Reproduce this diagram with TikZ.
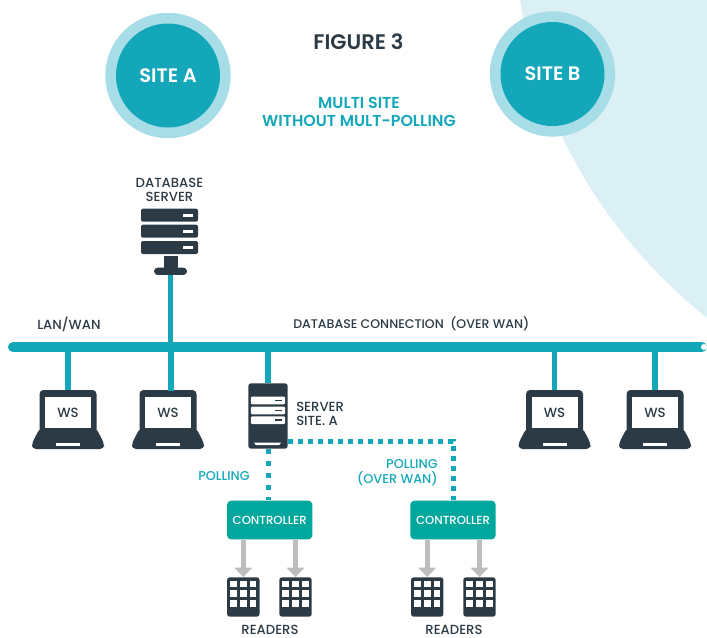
\documentclass[tikz,border=0pt]{standalone}
\usepackage{fontspec}
\setmainfont{Poppins Medium}
\newfontfamily\semifont{Poppins SemiBold}
\usetikzlibrary{arrows.meta,positioning}
\definecolor{sitecyan}{HTML}{14A7BA}
\definecolor{sitering}{HTML}{A6DDE7}
\definecolor{sitepale}{HTML}{DBF0F4}
\definecolor{icondark}{HTML}{2B3A44}
\definecolor{ctrlteal}{HTML}{00A79D}
\definecolor{arrowgray}{HTML}{BDBDBD}
\tikzstyle{sitering} = [circle, fill=sitering, minimum size=94pt, inner sep=0pt]
\tikzstyle{sitecore} = [circle, fill=sitecyan, minimum size=78pt, inner sep=0pt, text=white, font=\semifont\fontsize{14.6}{16}\selectfont]
\tikzstyle{darktext} = [text=icondark, font=\fontsize{9.9}{10.5}\selectfont, align=center, inner sep=0pt]
\tikzstyle{cyantext} = [text=sitecyan, font=\fontsize{9.6}{11.2}\selectfont, align=center, inner sep=0pt]
\tikzstyle{busbar} = [fill=sitecyan, minimum width=524.25pt, minimum height=7.3pt, rounded corners=3.6pt, inner sep=0pt]
\tikzstyle{busline} = [draw=sitecyan, line width=4.2pt]
\tikzstyle{polldots} = [draw=sitecyan, line width=3.75pt, dash pattern=on 3.75pt off 3.75pt]
\tikzstyle{pollsteps} = [draw=sitecyan, line width=3.75pt, dash pattern=on 3.75pt off 5.25pt]
\tikzstyle{darkrow} = [fill=icondark, minimum width=42.75pt, minimum height=9.75pt, rounded corners=1.5pt, inner sep=0pt]
\tikzstyle{whiteslot} = [fill=white, minimum width=7.5pt, minimum height=2.2pt, inner sep=0pt]
\tikzstyle{laptoplid} = [fill=icondark, minimum width=42.75pt, minimum height=33pt, rounded corners=3pt, inner sep=0pt]
\tikzstyle{wsscreen} = [fill=white, minimum width=34.5pt, minimum height=24pt, inner sep=0pt, text=icondark, font=\fontsize{10}{11}\selectfont]
\tikzstyle{towerbox} = [fill=icondark, minimum width=29.5pt, minimum height=49pt, rounded corners=2pt, inner sep=0pt]
\tikzstyle{towerslot} = [fill=white, minimum width=25.7pt, minimum height=5.7pt, rounded corners=0.8pt, inner sep=0pt]
\tikzstyle{controller} = [fill=ctrlteal, minimum width=64pt, minimum height=29pt, rounded corners=3pt, inner sep=0pt, text=white, font=\fontsize{8.8}{10}\selectfont]
\tikzstyle{readerbox} = [fill=icondark, minimum width=24.3pt, minimum height=29.5pt, rounded corners=2pt, inner sep=0pt]
\tikzstyle{readerkey} = [fill=white, minimum size=5pt, inner sep=0pt]
\tikzstyle{feedarrow} = [draw=arrowgray, line width=4pt, -{Triangle[width=13pt,length=7pt]}]
\newcommand{\wslaptop}[2]{%
	\node[laptoplid] (#1) at (#2,412) {};
	\node[wsscreen] (#1screen) at (#2,412.7) {WS};
	\fill[icondark, rounded corners=3pt] (#2-28,428) -- (#2+28,428) -- (#2+36,443) -- (#2+36,449) -- (#2-36,449) -- (#2-36,443) -- cycle;
	\fill[white] (#2-12,443) rectangle (#2+12,445.7);
}
\newcommand{\cardreader}[2]{%
	\node[readerbox] (#1) at (#2,597) {};
	\foreach \col in {-9.7,0,9.7}
		\foreach \row in {-13,-3.3,6.4}
			\node[readerkey] at (#2+\col,597+\row) {};
}
\begin{document}
\begin{tikzpicture}[x=0.75pt,y=-0.75pt]
	\clip (0,0) rectangle (707,637);
	\fill[sitepale] (520,0) .. controls (540,130) and (610,240) .. (707,318) -- (707,0) -- cycle;

	\node[sitering] (siteAring) at (168,75.5) {};
	\node[sitecore] (siteA) at (168,75.5) {SITE A};
	\node[sitering] (siteBring) at (552.5,74) {};
	\node[sitecore] (siteB) at (552.5,74) {SITE B};

	\node[darktext, font=\semifont\fontsize{15.8}{18}\selectfont] (figtitle) at (358.5,42) {FIGURE 3};
	\node[cyantext, font=\semifont\fontsize{11.9}{13.5}\selectfont] (subtitle) at (359,112) {MULTI SITE\\WITHOUT MULT-POLLING};

	\node[darktext] (dblabel) at (169.5,190) {DATABASE\\SERVER};
	\node[darkrow] (dbrow1) at (169.5,215.2) {};
	\node[darkrow] (dbrow2) at (169.5,231.2) {};
	\node[darkrow] (dbrow3) at (169.5,247.5) {};
	\foreach \rowy in {215.2,231.2,247.5}
		\node[whiteslot] at (188,\rowy) {};
	\node[fill=icondark, minimum width=10.5pt, minimum height=9pt, inner sep=0pt] (dbneck) at (171,262) {};
	\node[fill=icondark, minimum width=24.7pt, minimum height=5.5pt, rounded corners=2.7pt, inner sep=0pt] (dbbase) at (170.5,271.3) {};

	\node[busbar] (bus) at (357.5,347) {};
	\node[circle, fill=white, minimum size=4.5pt, inner sep=0pt] (busend) at (704,347) {};
	\node[darktext, anchor=west] (lanlabel) at (37,324) {LAN/WAN};
	\node[darktext, anchor=west, font=\fontsize{9.4}{10.5}\selectfont] (wanlabel) at (293,324) {DATABASE CONNECTION\ \ (OVER WAN)};

	\wslaptop{wsone}{68}
	\wslaptop{wstwo}{168}
	\wslaptop{wsthree}{554.5}
	\wslaptop{wsfour}{655}
	\coordinate (wstwotop) at (171,391);

	\draw[busline] (dbbase.south) -- (bus.north -| dbbase.south);
	\draw[busline] (bus.south -| wsone.north) -- (wsone.north);
	\draw[busline] (bus.south -| wstwotop) -- (wstwotop);
	\draw[busline] (bus.south -| wsthree.north) -- (wsthree.north);
	\draw[busline] (bus.south -| wsfour.north) -- (wsfour.north);

	\node[towerbox] (sitesrv) at (268,416) {};
	\draw[busline] (bus.south -| sitesrv.north) -- (sitesrv.north);
	\foreach \rowy in {400.5,410.5,420.2} {
		\node[towerslot] at (268,\rowy) {};
		\fill[icondark] (275,\rowy-0.8) rectangle (281.7,\rowy+0.8);
	}
	\fill[white] (254,442.7) -- (281,442.7) -- (279,445.2) -- (256,445.2) -- cycle;
	\node[darktext, anchor=west, align=left] (srvlabel) at (296,414) {SERVER\\SITE. A};

	\node[controller] (ctrlone) at (269.7,520) {CONTROLLER};
	\node[controller] (ctrltwo) at (453,520) {CONTROLLER};

	\coordinate (pollstart) at (288,441);
	\draw[pollsteps] (sitesrv.south) -- (sitesrv.south |- ctrlone.north);
	\draw[polldots] (pollstart) -- (ctrltwo.north |- pollstart) -- (ctrltwo.north);
	\node[cyantext, anchor=west] (polllabel) at (198,476) {POLLING};
	\node[cyantext, anchor=east, align=right] (wanpoll) at (438,472.5) {POLLING\\(OVER WAN)};

	\cardreader{readerone}{243.3}
	\cardreader{readertwo}{295.5}
	\cardreader{readerthree}{427.2}
	\cardreader{readerfour}{479.5}

	\draw[feedarrow] (ctrlone.south -| readerone.north) -- (readerone.north);
	\draw[feedarrow] (ctrlone.south -| readertwo.north) -- (readertwo.north);
	\draw[feedarrow] (ctrltwo.south -| readerthree.north) -- (readerthree.north);
	\draw[feedarrow] (ctrltwo.south -| readerfour.north) -- (readerfour.north);

	\node[darktext] (readersone) at (270,629.5) {READERS};
	\node[darktext] (readerstwo) at (454,629.5) {READERS};
\end{tikzpicture}
\end{document}
